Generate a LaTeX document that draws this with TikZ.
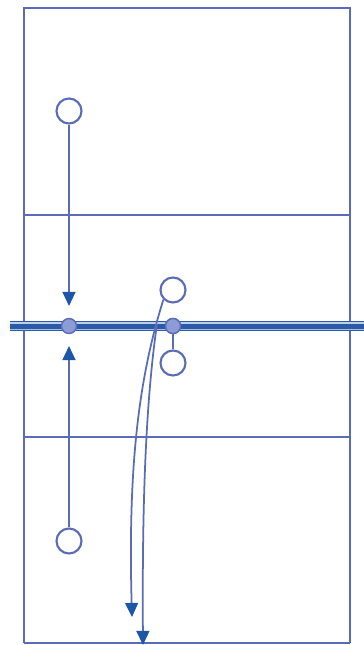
\documentclass[tikz,border=0pt]{standalone}
\usepackage{xcolor}
\usepackage{tikz}
\usetikzlibrary{arrows.meta,positioning,calc}

\definecolor{courtline}{HTML}{5A6CB6}
\definecolor{netblue}{HTML}{2A5BA8}
\definecolor{arrowblue}{HTML}{1C56A6}
\definecolor{dotfill}{HTML}{8E9CD6}

\begin{document}
\begin{tikzpicture}[
    x=0.3mm, y=-0.3mm,
    court/.style={draw=courtline, line width=1.3pt},
    player/.style={circle, draw=courtline, line width=1.8pt, fill=white, minimum size=25*0.3mm, inner sep=0pt},
    ball/.style={circle, draw=courtline, line width=1.2pt, fill=dotfill, minimum size=15*0.3mm, inner sep=0pt},
    move/.style={draw=courtline, line width=1.5pt, -{Triangle[width=11pt,length=12pt,color=arrowblue]}},
    path/.style={draw=courtline, line width=1.5pt, -{Triangle[width=11pt,length=12pt,color=arrowblue]}}
]
    \useasboundingbox (0,0) rectangle (364,645);

    % Court and attack lines
    \draw[court] (24,643) -- (24,8) -- (350,8) -- (350,643);
    \draw[court] (24,643) -- (350,643);
    \draw[court] (24,215) -- (350,215);
    \draw[court] (24,437) -- (350,437);

    % Net
    \draw[netblue, line width=9pt] (10,326) -- (364,326);
    \draw[white!70!netblue, line width=1pt] (10,323) -- (364,323);
    \draw[white!60!netblue, line width=1pt] (10,329.5) -- (364,329.5);

    % Players
    \node[player] (P1) at (69,111) {};
    \node[player] (P2) at (69,541) {};
    \node[player] (P3) at (173,290) {};
    \node[player] (P4) at (173,363) {};

    % Balls on the net
    \node[ball] (B1) at (69,326) {};
    \node[ball] (B2) at (173,326) {};

    % Arrow ends
    \coordinate (E1) at (69,306);
    \coordinate (E2) at (69,346);
    \coordinate (S2) at (157,324);
    \coordinate (E3) at (132,617);
    \coordinate (E4) at (143,645);

    % Trajectories behind the net ball
    \draw[path] (P3.south west) .. controls (138,380) and (128,470) .. (E3);
    \draw[path] (S2) .. controls (146,400) and (142,500) .. (E4);
    \node[ball] at (B2) {};

    % Moves to the net
    \draw[move] (P1) -- (E1);
    \draw[move] (P2) -- (E2);
    \draw[court, line width=1.8pt] (B2) -- (P4);
\end{tikzpicture}
\end{document}
